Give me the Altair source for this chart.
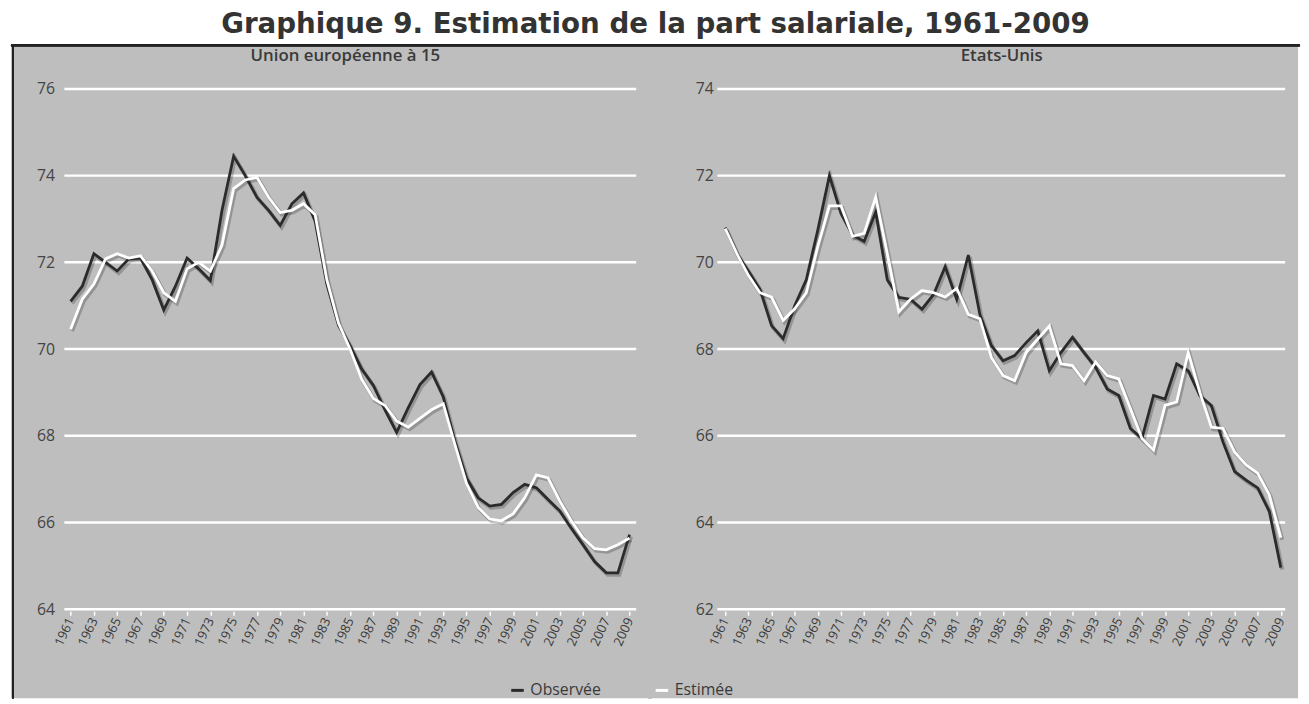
import altair as alt
import pandas as pd

years = list(range(1961, 2010))
year_ticks = list(range(1961, 2010, 2))
series_names = ["Observée", "Estimée"]

ue_observee = [71.1, 71.45, 72.2, 72.0, 71.8, 72.08, 72.1, 71.6, 70.9, 71.45,
               72.1, 71.85, 71.58, 73.2, 74.45, 74.0, 73.5, 73.2, 72.85, 73.35,
               73.6, 72.95, 71.5, 70.55, 70.08, 69.54, 69.16, 68.6, 68.08, 68.65,
               69.18, 69.47, 68.9, 67.87, 67.03, 66.57, 66.38, 66.42, 66.69, 66.88,
               66.8, 66.53, 66.27, 65.87, 65.49, 65.1, 64.84, 64.84, 65.72]
ue_estimee = [70.46, 71.15, 71.5, 72.08, 72.2, 72.1, 72.15, 71.8, 71.3, 71.1,
              71.85, 72.0, 71.8, 72.4, 73.7, 73.9, 73.96, 73.5, 73.15, 73.2,
              73.35, 73.1, 71.6, 70.6, 70.0, 69.3, 68.86, 68.7, 68.34, 68.2,
              68.4, 68.6, 68.74, 67.8, 66.9, 66.35, 66.08, 66.04, 66.2, 66.57,
              67.1, 67.03, 66.5, 66.04, 65.65, 65.4, 65.37, 65.49, 65.64]
us_observee = [70.8, 70.2, 69.8, 69.38, 68.54, 68.24, 69.0, 69.6, 70.75, 72.0,
               71.13, 70.63, 70.48, 71.16, 69.6, 69.19, 69.15, 68.92, 69.26, 69.9,
               69.15, 70.17, 68.8, 68.08, 67.73, 67.85, 68.15, 68.42, 67.5, 67.92,
               68.27, 67.92, 67.58, 67.08, 66.93, 66.17, 65.94, 66.93, 66.85, 67.66,
               67.5, 66.93, 66.7, 65.86, 65.18, 64.98, 64.8, 64.26, 62.96]
us_estimee = [70.78, 70.2, 69.7, 69.3, 69.2, 68.66, 68.93, 69.3, 70.37, 71.3,
              71.3, 70.6, 70.67, 71.5, 70.2, 68.86, 69.15, 69.35, 69.3, 69.2,
              69.4, 68.8, 68.7, 67.8, 67.39, 67.27, 67.92, 68.23, 68.53, 67.66,
              67.62, 67.27, 67.7, 67.39, 67.31, 66.63, 65.94, 65.67, 66.7, 66.78,
              67.92, 67.0, 66.2, 66.17, 65.63, 65.33, 65.14, 64.64, 63.65]

ue_grid = [64, 66, 68, 70, 72, 74, 76]
us_grid = [62, 64, 66, 68, 70, 72, 74]

FONT = "Open Sans"
TEXT = "#3a3a3a"
GRAY = "#bebebe"
DARK = "#2b2b2b"

color_scale = alt.Scale(domain=series_names, range=[DARK, "#ffffff"])
legend = alt.Legend(orient="none", legendX=502, legendY=644, direction="horizontal",
                    title=None, symbolType="stroke", symbolStrokeWidth=3, symbolSize=160,
                    labelFont=FONT, labelFontSize=16, labelColor=TEXT, columnPadding=48,
                    symbolOffset=0, labelOffset=5)


def panel(obs, est, grid, title, ydom, xdom, width, yoff, gx, gx2, dx, is_left):
    height = 660
    df = pd.DataFrame({
        "Année": years + years,
        "Valeur": obs + est,
        "Série": [series_names[0]] * len(years) + [series_names[1]] * len(years),
    })
    gdf = pd.DataFrame({"v": grid})
    x = alt.X("Année:Q", scale=alt.Scale(domain=xdom, nice=False, zero=False),
              axis=alt.Axis(values=year_ticks, format="d", labelAngle=-65, offset=-88,
                            domain=False, grid=False, ticks=True, tickColor="white",
                            tickSize=4, tickWidth=1.5, labelFont=FONT, labelFontSize=13,
                            labelColor=TEXT, labelPadding=3, title=None, labelOverlap=False))
    yaxis = alt.Axis(values=grid, offset=yoff, domain=False, ticks=False, grid=False,
                     labelPadding=4, labelFont=FONT, labelFontSize=16,
                     labelColor="#444444", title=None)
    yscale = alt.Scale(domain=ydom, nice=False, zero=False)
    y = alt.Y("Valeur:Q", scale=yscale, axis=yaxis)
    layers = []
    if not is_left:
        layers.append(alt.Chart(gdf).mark_rule(color=GRAY, strokeWidth=4).encode(
            x=alt.value(0), y=alt.value(1), y2=alt.value(height)))
    rules = alt.Chart(gdf).mark_rule(color="white", strokeWidth=2.5).encode(
        y=alt.Y("v:Q", scale=yscale, axis=yaxis),
        x=alt.value(gx), x2=alt.value(gx2))
    base = alt.Chart(df)
    shadow = base.mark_line(strokeWidth=4, color="black", opacity=0.22,
                            xOffset=1.5, yOffset=2).encode(x=x, y=y, detail="Série:N")
    dark = base.transform_filter(alt.datum["Série"] == series_names[0]).mark_line(
        strokeWidth=2.8).encode(x=x, y=y, color=alt.Color("Série:N", scale=color_scale, legend=legend))
    white = base.transform_filter(alt.datum["Série"] == series_names[1]).mark_line(
        strokeWidth=2.8).encode(x=x, y=y, color=alt.Color("Série:N", scale=color_scale, legend=legend))
    top_border = alt.Chart(gdf).mark_rule(color="#222", strokeWidth=2).encode(
        x=alt.value(-2), x2=alt.value(width + 2), y=alt.value(0))
    layers += [rules, shadow, dark, white, top_border]
    if is_left:
        layers.append(alt.Chart(gdf).mark_rule(color="#222", strokeWidth=2).encode(
            x=alt.value(0), y=alt.value(0), y2=alt.value(height)))
    return alt.layer(*layers).properties(
        width=width, height=height,
        view=alt.ViewBackground(fill=GRAY, stroke=None, strokeWidth=0),
        title=alt.Title(title, offset=-21, fontSize=17, font=FONT, fontWeight=600,
                        color=TEXT, anchor="middle", dx=dx))


left = panel(ue_observee, ue_estimee, ue_grid, "Union européenne à 15",
             [61.947, 77.004], [1956.047, 2010.762], 644, -46, 52, 630, 14, True)
right = panel(us_observee, us_estimee, us_grid, "Etats-Unis",
              [59.947, 75.004], [1954.504, 2010.487], 655, -68, 68, 642, 28, False)

chart = alt.hconcat(left, right, spacing=0, bounds="flush").properties(
    title=alt.Title("Graphique 9. Estimation de la part salariale, 1961-2009",
                    fontSize=28, font="DejaVu Sans", fontWeight="bold",
                    color="#333333", anchor="middle", offset=5),
    padding={"left": 2, "top": 0, "right": 0, "bottom": 0},
).configure_view(stroke=None, strokeWidth=0).configure(background="white")

chart.save("out.html", embed_options={"renderer": "svg", "actions": False})
